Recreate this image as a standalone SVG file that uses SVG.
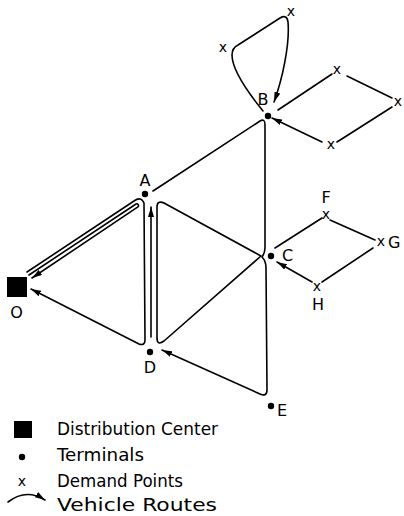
<svg xmlns="http://www.w3.org/2000/svg" width="404" height="516" viewBox="0 0 404 516">
<style>
.r{fill:none;stroke:#000;stroke-width:1.6;stroke-linejoin:round;stroke-linecap:round}
.lb{font-family:"DejaVu Sans","Liberation Sans",sans-serif;font-size:16px;fill:#000}
.x{font-family:"DejaVu Sans","Liberation Sans",sans-serif;font-size:14px;fill:#000;text-anchor:middle}
.lg{font-family:"DejaVu Sans","Liberation Sans",sans-serif;font-size:17px;fill:#000}
</style>
<defs>
<marker id="ah" viewBox="0 0 10 6" refX="10" refY="3" markerWidth="10" markerHeight="6" markerUnits="userSpaceOnUse" orient="auto"><path d="M0,0 L10,3 L0,6 z" fill="#000"/></marker>
</defs>
<rect width="404" height="516" fill="#fff"/>
<g id="connectors">
<path class="r" d="M27,272 L134,201 Q141,196 144,203 L145,340 Q145,346 139,344 L31,289" marker-end="url(#ah)"/>
<path class="r" d="M29,275 L136,204 A1.75,1.75 0 0 1 137.9,206.9 L32,278" marker-end="url(#ah)"/>
<path class="r" d="M151,337 L151,207" marker-end="url(#ah)"/>
<path class="r" d="M157,338 L157,207 Q157,200 164,203 L261,256 L164,341 Q157,346 157,338 Z"/>
<path class="r" d="M153,191 L260,121 Q265,118 265,125 L265,248 Q265,253 262,257 Q266,261 266,268 L267,390 Q267,397 260,394 L162,350" marker-end="url(#ah)"/>
<path class="r" d="M263,111 C250,95 232,70 232,55 Q232,48 238,45 L280,18 Q287,14 288,22 C290,45 282,80 274,102" marker-end="url(#ah)"/>
<path class="r" d="M278,110 L332,74 M347,76 L392,98 M392,107 L337,142 M322,142 L272,118" marker-end="url(#ah)"/>
<path class="r" d="M275,248 L322,218 M330,220 L375,240 M373,248 L322,282 M312,282 L277,262" marker-end="url(#ah)"/>
</g>
<g id="O"><rect x="7" y="277" width="20" height="20" fill="#000"/><text class="lb" x="16.5" y="318" text-anchor="middle">O</text></g>
<g id="A"><circle cx="145" cy="194" r="3.2"/><text class="lb" x="145" y="186" text-anchor="middle">A</text></g>
<g id="B"><circle cx="268" cy="116" r="3.2"/><text class="lb" x="263" y="105" text-anchor="middle">B</text></g>
<g id="C"><circle cx="271" cy="256" r="3.2"/><text class="lb" x="282" y="261">C</text></g>
<g id="D"><circle cx="150" cy="352" r="3.2"/><text class="lb" x="150" y="373" text-anchor="middle">D</text></g>
<g id="E"><circle cx="271" cy="406" r="3.2"/><text class="lb" x="277" y="416">E</text></g>
<g id="demand">
<text class="x" x="223" y="52">x</text>
<text class="x" x="291" y="16">x</text>
<text class="x" x="337" y="74">x</text>
<text class="x" x="398" y="106">x</text>
<text class="x" x="331" y="149">x</text>
<text class="x" x="326" y="219">x</text>
<text class="x" x="381" y="246">x</text>
<text class="x" x="317" y="291">x</text>
<text class="lb" x="326" y="203" text-anchor="middle">F</text>
<text class="lb" x="388" y="248">G</text>
<text class="lb" x="318" y="310" text-anchor="middle">H</text>
</g>
<g id="legend">
<rect x="14" y="421" width="18" height="17" fill="#000"/>
<text class="lg" x="57" y="435" textLength="161" lengthAdjust="spacingAndGlyphs">Distribution Center</text>
<circle cx="22" cy="457" r="3.2"/>
<text class="lg" x="57" y="461" textLength="87" lengthAdjust="spacingAndGlyphs">Terminals</text>
<text class="x" x="22" y="486">x</text>
<text class="lg" x="57" y="487" textLength="126" lengthAdjust="spacingAndGlyphs">Demand Points</text>
<path class="r" d="M8,502 Q26,488 45,500" marker-end="url(#ah)"/>
<text class="lg" x="57" y="511" textLength="160" lengthAdjust="spacingAndGlyphs">Vehicle Routes</text>
</g>
</svg>
